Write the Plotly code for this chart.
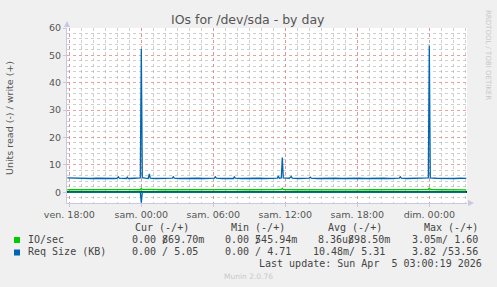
import plotly.graph_objects as go

# ---------------- data ----------------
req_write_times = [
    "2026-04-03 17:50", "2026-04-03 18:20", "2026-04-03 18:50", "2026-04-03 19:20",
    "2026-04-03 19:50", "2026-04-03 20:20", "2026-04-03 20:50", "2026-04-03 21:20",
    "2026-04-03 21:50", "2026-04-03 22:00", "2026-04-03 22:05", "2026-04-03 22:10",
    "2026-04-03 22:45", "2026-04-03 22:50", "2026-04-03 22:55", "2026-04-03 23:25",
    "2026-04-03 23:55", "2026-04-04 00:00", "2026-04-04 00:05", "2026-04-04 00:20",
    "2026-04-04 00:35", "2026-04-04 00:40", "2026-04-04 00:45", "2026-04-04 01:15",
    "2026-04-04 01:45", "2026-04-04 02:15", "2026-04-04 02:35", "2026-04-04 02:40",
    "2026-04-04 02:45", "2026-04-04 03:15", "2026-04-04 03:45", "2026-04-04 04:15",
    "2026-04-04 04:45", "2026-04-04 05:15", "2026-04-04 05:45", "2026-04-04 06:05",
    "2026-04-04 06:10", "2026-04-04 06:15", "2026-04-04 06:45", "2026-04-04 07:15",
    "2026-04-04 07:40", "2026-04-04 07:45", "2026-04-04 07:50", "2026-04-04 08:20",
    "2026-04-04 08:50", "2026-04-04 09:20", "2026-04-04 09:50", "2026-04-04 10:20",
    "2026-04-04 10:50", "2026-04-04 11:20", "2026-04-04 11:25", "2026-04-04 11:30",
    "2026-04-04 11:40", "2026-04-04 11:45", "2026-04-04 11:50", "2026-04-04 12:20",
    "2026-04-04 12:30", "2026-04-04 12:35", "2026-04-04 13:05", "2026-04-04 13:35",
    "2026-04-04 14:00", "2026-04-04 14:05", "2026-04-04 14:10", "2026-04-04 14:40",
    "2026-04-04 15:10", "2026-04-04 15:40", "2026-04-04 16:10", "2026-04-04 16:40",
    "2026-04-04 17:10", "2026-04-04 17:40", "2026-04-04 18:10", "2026-04-04 18:40",
    "2026-04-04 19:10", "2026-04-04 19:40", "2026-04-04 20:10", "2026-04-04 20:40",
    "2026-04-04 21:10", "2026-04-04 21:30", "2026-04-04 21:35", "2026-04-04 21:40",
    "2026-04-04 22:10", "2026-04-04 22:40", "2026-04-04 23:10", "2026-04-04 23:40",
    "2026-04-04 23:55", "2026-04-05 00:00", "2026-04-05 00:05", "2026-04-05 00:35",
    "2026-04-05 01:05", "2026-04-05 01:35", "2026-04-05 02:05", "2026-04-05 02:35",
    "2026-04-05 03:05",
]
req_write_vals = [
    5.2, 5.1, 5.0, 5.1,
    5.0, 5.1, 5.0, 5.1,
    5.0, 5.1, 5.6, 5.1,
    5.0, 5.5, 5.0, 5.1,
    5.2, 52.3, 5.3, 5.1,
    5.0, 6.7, 5.1, 5.0,
    5.1, 5.0, 5.1, 5.6,
    5.1, 5.0, 5.1, 5.0,
    5.1, 5.0, 5.1, 5.1,
    5.6, 5.1, 5.0, 5.1,
    5.0, 5.6, 5.1, 5.0,
    5.1, 5.0, 5.1, 5.0,
    5.1, 5.1, 5.9, 5.1,
    5.2, 12.7, 5.2, 5.1,
    5.7, 5.1, 5.0, 5.1,
    5.1, 5.5, 5.1, 5.0,
    5.1, 5.0, 5.1, 5.0,
    5.1, 5.0, 5.1, 5.0,
    5.1, 5.0, 5.1, 5.0,
    5.1, 5.1, 5.6, 5.1,
    5.0, 5.1, 5.0, 5.1,
    5.2, 53.56, 5.2, 5.1,
    5.0, 5.1, 5.0, 5.1,
    5.05,
]

req_read_times = ["2026-04-03 17:50", "2026-04-03 23:55", "2026-04-04 00:00",
                  "2026-04-04 00:05", "2026-04-05 03:05"]
req_read_vals = [0.0, 0.0, 3.82, 0.0, 0.0]

io_write_times = [
    "2026-04-03 17:50", "2026-04-03 18:50", "2026-04-03 19:50", "2026-04-03 20:50",
    "2026-04-03 21:50", "2026-04-03 22:50", "2026-04-03 23:55", "2026-04-04 00:00",
    "2026-04-04 00:05", "2026-04-04 00:40", "2026-04-04 01:40", "2026-04-04 02:40",
    "2026-04-04 03:40", "2026-04-04 04:40", "2026-04-04 05:40", "2026-04-04 06:40",
    "2026-04-04 07:40", "2026-04-04 08:40", "2026-04-04 09:40", "2026-04-04 10:40",
    "2026-04-04 11:40", "2026-04-04 11:45", "2026-04-04 11:50", "2026-04-04 12:50",
    "2026-04-04 13:50", "2026-04-04 14:50", "2026-04-04 15:50", "2026-04-04 16:50",
    "2026-04-04 17:50", "2026-04-04 18:50", "2026-04-04 19:50", "2026-04-04 20:50",
    "2026-04-04 21:50", "2026-04-04 22:50", "2026-04-04 23:55", "2026-04-05 00:00",
    "2026-04-05 00:05", "2026-04-05 01:05", "2026-04-05 02:05", "2026-04-05 03:05",
]
io_write_vals = [
    0.90, 0.95, 0.85, 0.95,
    0.90, 0.95, 0.90, 1.50,
    0.95, 1.05, 0.90, 0.95,
    0.85, 0.90, 0.95, 0.90,
    0.95, 0.90, 0.85, 0.90,
    0.95, 1.40, 0.95, 0.90,
    0.85, 0.90, 0.95, 0.90,
    0.85, 0.90, 0.95, 0.90,
    0.95, 0.90, 0.95, 1.60,
    0.95, 0.90, 0.85, 0.87,
]

io_read_times = ["2026-04-03 17:50", "2026-04-04 00:00", "2026-04-05 03:05"]
io_read_vals = [0.0, 0.00305, 0.0]

x_tick_times = ["2026-04-03 18:00", "2026-04-04 00:00", "2026-04-04 06:00",
                "2026-04-04 12:00", "2026-04-04 18:00", "2026-04-05 00:00"]
x_tick_labels = ["ven. 18:00", "sam. 00:00", "sam. 06:00",
                 "sam. 12:00", "sam. 18:00", "dim. 00:00"]

legend_names = ["IO/sec", "Req Size (KB)"]
legend_headers = ["Cur (-/+)", "Min (-/+)", "Avg (-/+)", "Max (-/+)"]
io_stats = ["0.00 869.70m", "0.00 545.94m", "8.36u898.50m", "3.05m/ 1.60"]
req_stats = ["0.00 / 5.05", "0.00 / 4.71", "10.48m/ 5.31", "3.82 /53.56"]
last_update = "Last update: Sun Apr  5 03:00:19 2026"

# ---------------- layout geometry ----------------
W_FIG, H_FIG = 497, 287
L, R, T, B = 67, 467, 28, 203
PW, PH = R - L, B - T

def px(x):
    return (x - L) / PW

def py(y):
    return (B - y) / PH

GREEN = "#00CC00"
BLUE = "#0066B3"
TXT = "#555555"
MONO = "DejaVu Sans Mono"
SANS = "DejaVu Sans"

fig = go.Figure()
fig.add_trace(go.Scatter(x=io_read_times, y=[-v for v in io_read_vals], mode="lines",
                         line=dict(color=GREEN, width=1.3), hoverinfo="skip"))
fig.add_trace(go.Scatter(x=io_write_times, y=io_write_vals, mode="lines",
                         line=dict(color=GREEN, width=1.3), hoverinfo="skip"))
fig.add_trace(go.Scatter(x=req_read_times, y=[-v for v in req_read_vals], mode="lines",
                         line=dict(color=BLUE, width=1.3), hoverinfo="skip"))
fig.add_trace(go.Scatter(x=req_write_times, y=req_write_vals, mode="lines",
                         line=dict(color=BLUE, width=1.3), hoverinfo="skip"))

MAJ = "rgba(225,130,130,0.75)"
MIN = "rgba(175,175,175,0.6)"
AX = "#c8c8e0"

fig.update_xaxes(
    type="date", range=["2026-04-03 17:48:30", "2026-04-05 03:08:30"],
    tickvals=x_tick_times, ticktext=x_tick_labels,
    showgrid=True, gridcolor=MAJ, griddash="dot", gridwidth=1,
    minor=dict(dtick=3600000, tick0="2026-04-03 00:00", showgrid=True,
               gridcolor=MIN, griddash="dot", gridwidth=1),
    showline=True, linecolor=AX, linewidth=1,
    ticks="outside", ticklen=3, tickcolor=AX,
    tickfont=dict(family=SANS, size=9.5, color=TXT),
    zeroline=False, fixedrange=True,
)
fig.update_yaxes(
    range=[-3.95, 60], dtick=10, tick0=0,
    showgrid=True, gridcolor=MAJ, griddash="dot", gridwidth=1,
    minor=dict(dtick=2, tick0=0, showgrid=True, gridcolor=MIN,
               griddash="dot", gridwidth=1),
    showline=True, linecolor=AX, linewidth=1,
    ticks="outside", ticklen=3, tickcolor=AX,
    tickfont=dict(family=SANS, size=9.5, color=TXT),
    zeroline=True, zerolinecolor="#000000", zerolinewidth=1.8,
    fixedrange=True,
)

shapes = []
# axis arrows
shapes.append(dict(type="path", xref="paper", yref="paper",
                   path=f"M {px(64)} {py(27)} L {px(70)} {py(27)} L {px(67)} {py(21)} Z",
                   fillcolor=AX, line=dict(width=0)))
shapes.append(dict(type="path", xref="paper", yref="paper",
                   path=f"M {px(468)} {py(200)} L {px(468)} {py(206)} L {px(474)} {py(203)} Z",
                   fillcolor=AX, line=dict(width=0)))
# legend swatches
shapes.append(dict(type="rect", xref="paper", yref="paper",
                   x0=px(14), x1=px(20), y0=py(243), y1=py(237),
                   fillcolor=GREEN, line=dict(width=0)))
shapes.append(dict(type="rect", xref="paper", yref="paper",
                   x0=px(14), x1=px(20), y0=py(255.5), y1=py(249.5),
                   fillcolor=BLUE, line=dict(width=0)))

ann = []

def text(x, y, s, size=10, family=MONO, color="#444444", xanchor="left", angle=0):
    ann.append(dict(x=px(x), y=py(y), xref="paper", yref="paper",
                    text=s.replace(" ", "\u00a0"), showarrow=False,
                    xanchor=xanchor, yanchor="middle", textangle=angle,
                    font=dict(family=family, size=size, color=color),
                    borderpad=0))

# title
text(248, 19, "IOs for /dev/sda - by day", size=12.5, family=SANS, color=TXT, xanchor="center")
# y axis title
text(10, 118, "Units read (-) / write (+)", size=9.5, family=SANS, color=TXT,
     xanchor="center", angle=-90)
# rrdtool watermark
text(488, 55, "RRDTOOL / TOBI OETIKER", size=7, family=SANS, color="#c8c8c8",
     xanchor="center", angle=90)

hx = [134, 230, 327, 423]
for x, h in zip(hx, legend_headers):
    text(x, 227.5, h)
text(27, 239.7, legend_names[0])
text(27, 251.9, legend_names[1])
row1_x = [131, 224, 317, 411]
for x, s in zip(row1_x, io_stats):
    text(x, 239.7, s)
# the "/" overprints the first digit in the original (fixed-width overflow)
for x in row1_x[:3]:
    text(x + 5 * 6.02, 239.7, "/")
row2_x = [131, 224, 312, 411]
for x, s in zip(row2_x, req_stats):
    text(x, 251.9, s)
text(483, 263.8, last_update, xanchor="right")
text(248, 276, "Munin 2.0.76", size=7.5, family=SANS, color="#c8c8c8", xanchor="center")

fig.update_layout(
    width=W_FIG, height=H_FIG,
    margin=dict(l=L, r=W_FIG - R, t=T, b=H_FIG - B, pad=0),
    paper_bgcolor="#F0F0F0", plot_bgcolor="#FFFFFF",
    showlegend=False, shapes=shapes, annotations=ann,
)

fig.write_html("out.html", config={"displayModeBar": False})
